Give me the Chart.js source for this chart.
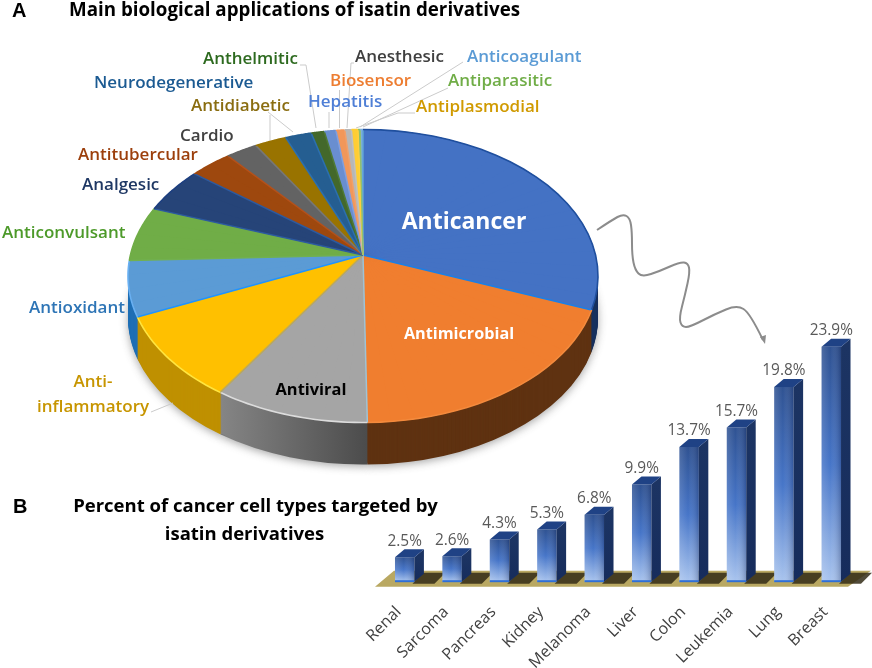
<!DOCTYPE html>
<html><head><meta charset="utf-8">
<style>html,body{margin:0;padding:0;background:#fff;width:872px;height:668px;overflow:hidden}
canvas{position:absolute;left:0;top:0}</style>
<script src="https://cdn.jsdelivr.net/npm/chart.js@4"></script></head>
<body><canvas id="pie" width="872" height="668"></canvas><canvas id="bar" width="872" height="668"></canvas>
<script>
const applications = ["Anticancer","Antimicrobial","Antiviral","Anti-inflammatory","Antioxidant","Anticonvulsant","Analgesic","Antitubercular","Cardio","Antidiabetic","Neurodegenerative","Anthelmitic","Hepatitis","Biosensor","Anesthesic","Antiplasmodial","Antiparasitic","Anticoagulant"];
const applicationShares = [28.75,21.0,10.7,10.1,6.2,5.9,4.7,3.0,2.2,2.2,1.8,0.9,0.8,0.6,0.45,0.45,0.14,0.2];
const sliceColors = ["#4472c4","#f07e2f","#a5a5a5","#ffc000","#5b9bd5","#70ad47","#264478","#9e480e","#636363","#997300","#255e91","#43682b","#698ed0","#f1975a","#b7b7b7","#ffcd33","#8cc168","#7cafdd"];
const rimColors = ["#17305e","#5f3211","#6a6a6a","#bf9000","#1f6fb5","#4f7f33","#1a2f55","#6f330a","#454545","#6b5100","#1a4267","#2f491e","#4a6492","#a96a3f","#808080","#b39024","#628749","#5f88ad"];
const edgeColors = ["#1f4f9e","#f38a3d","#dcdcdc","#ffe53f","#69b0f2","#70ad47","#1d3f80","#9e480e","#636363","#997300","#255e91","#43682b","#698ed0","#f1975a","#b7b7b7","#ffcd33","#8cc168","#7cafdd"];
const seamColors = ["#5fa3d8","#1b7fe6","#9fc3d6","#b9a860","#1f93ff","#72b050","#2c5aa0","#2c5aa0","#b5511a","#777777","#2b6fb0","#2b6fb0","#4f7a35","#7f9fe0","#f1a06a","#c0c0c0","#ffd040","#90c070"];
const cancerTypes = ["Renal","Sarcoma","Pancreas","Kidney","Melanoma","Liver","Colon","Leukemia","Lung","Breast"];
const cancerPercents = [2.5,2.6,4.3,5.3,6.8,9.9,13.7,15.7,19.8,23.9];

const F = '"Open Sans"';
const outsideLabels = [
 ["Anthelmitic",203,59,"#2d6a1f"],["Neurodegenerative",94,83,"#1b5a92"],["Antidiabetic",191,106,"#8a6d10"],
 ["Hepatitis",308,102,"#4f7fd6"],["Biosensor",330,81,"#ed7d31"],["Anesthesic",355,57,"#404040"],
 ["Anticoagulant",467,57,"#5b9bd5"],["Antiparasitic",448,81,"#70ad47"],["Antiplasmodial",416,107,"#d09a00"],
 ["Cardio",180,136,"#404040"],["Antitubercular",78,155,"#9c3f0c"],["Analgesic",82,185,"#1f3864"],
 ["Anticonvulsant",2,233,"#4d9a2a"],["Antioxidant",29,308,"#2e75b6"],["inflammatory",37,407,"#c79500"]];
const leaders = [
 [[270,140],[270,115]],[[293,132],[268,112]],[[316,128],[306,65],[300,65]],[[329,128],[329,112]],
 [[339.5,128],[339.5,90]],[[347,128],[351,63],[354,63]],[[360,127],[463,62]],[[363,127],[448,88]],
 [[356,128],[398,113],[415,113]],[[173,403],[151,412]]];
const wave = [[597,230],[612,220],[623,214],[630,218],[632,232],[632,255],[635,270],[642,277],[660,271],[680,262],[688,263],[690,272],[685,295],[679,318],[682,327],[690,327],[715,314],[737,305],[750,313],[763,340]];

const K = 146.5/235, SHIFT = 21, DEPTH = 42;

function plain(a,color,ang1,ang2){
  const s=Object.create(a), o=Object.assign({},a.options);
  o.backgroundColor=color; o.borderWidth=0; s.options=o;
  if(ang1!==undefined){s.startAngle=ang1;s.endAngle=ang2;s.circumference=ang2-ang1;}
  return s;
}
function rimPoint(a,phi){const R=a.outerRadius;return [R*Math.cos(phi),K*R*Math.sin(phi)+SHIFT];}
const piePlugin = {
  id:'face3d',
  beforeDatasetsDraw(chart){
    const ctx=chart.ctx, arcs=chart.getDatasetMeta(0).data, cx=arcs[0].x, cy=arcs[0].y;
    const draw=(s)=>s.constructor.prototype.draw.call(s,ctx);
    const grad=ctx.createLinearGradient(221,0,366,0);
    grad.addColorStop(0,'#858585');grad.addColorStop(1,'#4c4c4c');
    const col=i=>i===2?grad:rimColors[i];
    for(let d=DEPTH;d>=0;d--){
      ctx.save();
      if(d===DEPTH){ctx.shadowColor='rgba(60,60,60,.45)';ctx.shadowBlur=8;ctx.shadowOffsetY=2;}
      ctx.translate(cx,cy+SHIFT+d);ctx.scale(1,K);ctx.translate(-cx,-cy);
      arcs.forEach((a,i)=>draw(plain(a,col(i))));
      ctx.restore();
    }
    // top face: every slice is cut into thin wedges, each with its own affine map, so the apex sits off the ellipse centre
    arcs.forEach((a,i)=>{
      const span=a.endAngle-a.startAngle, n=Math.ceil(span/(6*Math.PI/180));
      for(let pass=0;pass<2;pass++) for(let j=0;j<n;j++){
        const p1=a.startAngle+span*j/n;
        const p2=a.startAngle+span*(j+1)/n+(j<n-1?0.03:0);
        const R=a.outerRadius;
        const v1=[R*Math.cos(p1),R*Math.sin(p1)],v2=[R*Math.cos(p2),R*Math.sin(p2)];
        const w1=rimPoint(a,p1),w2=rimPoint(a,p2);
        const det=v1[0]*v2[1]-v2[0]*v1[1];
        const m11=(w1[0]*v2[1]-w2[0]*v1[1])/det, m12=(w2[0]*v1[0]-w1[0]*v2[0])/det;
        const m21=(w1[1]*v2[1]-w2[1]*v1[1])/det, m22=(w2[1]*v1[0]-w1[1]*v2[0])/det;
        ctx.save();
        ctx.translate(cx,cy);ctx.transform(m11,m21,m12,m22,0,0);ctx.translate(-cx,-cy);
        draw(plain(a,sliceColors[i],p1,p2));
        ctx.restore();
      }
    });
    arcs.forEach((a,i)=>{
      const w=rimPoint(a,a.startAngle);
      ctx.strokeStyle=seamColors[i];ctx.lineWidth=1.5;
      ctx.beginPath();ctx.moveTo(cx,cy);ctx.lineTo(cx+w[0],cy+w[1]);ctx.stroke();
      ctx.strokeStyle=edgeColors[i];ctx.lineWidth=1.6;ctx.beginPath();
      for(let t=0;t<=24;t++){const p=rimPoint(a,a.startAngle+(a.endAngle-a.startAngle)*t/24);
        t?ctx.lineTo(cx+p[0],cy+p[1]):ctx.moveTo(cx+p[0],cy+p[1]);}
      ctx.stroke();
    });
    return false;
  },
  afterDraw(chart){
    const c=chart.ctx;
    c.save();
    c.strokeStyle='#cbcbcb';c.lineWidth=1;
    leaders.forEach(l=>{c.beginPath();l.forEach((p,i)=>i?c.lineTo(p[0],p[1]):c.moveTo(p[0],p[1]));c.stroke();});
    c.textBaseline='middle';c.textAlign='left';
    c.font='600 17px '+F;
    outsideLabels.forEach(l=>{c.fillStyle=l[3];c.fillText(l[0],l[1],l[2]);});
    c.fillStyle='#c79500';c.textAlign='center';c.fillText('Anti-',93,382);
    c.font='700 23px '+F;c.fillStyle='#fff';c.fillText('Anticancer',464,222);
    c.font='700 16.2px '+F;c.fillText('Antimicrobial',459,334);
    c.font='700 16.4px '+F;c.fillStyle='#000';c.fillText('Antiviral',311,390);
    c.textAlign='left';c.fillStyle='#000';
    c.font='700 20px "Liberation Sans"';c.fillText('A',12,11);c.fillText('B',13,507);
    c.font='700 18.75px '+F;c.fillText('Main biological applications of isatin derivatives',69,11);
    c.textAlign='center';c.font='700 18.5px '+F;
    c.fillText('Percent of cancer cell types targeted by',255.5,507);c.fillText('isatin derivatives',244.5,535);
    c.strokeStyle='#8c8c8c';c.lineWidth=2;c.lineJoin='round';c.beginPath();c.moveTo(wave[0][0],wave[0][1]);
    for(let i=1;i<wave.length-1;i++){const m=[(wave[i][0]+wave[i+1][0])/2,(wave[i][1]+wave[i+1][1])/2];
      c.quadraticCurveTo(wave[i][0],wave[i][1],i===wave.length-2?wave[i+1][0]:m[0],i===wave.length-2?wave[i+1][1]:m[1]);}
    c.stroke();
    c.fillStyle='#8c8c8c';c.beginPath();c.moveTo(765,344);c.lineTo(760,337);c.lineTo(766,335);c.closePath();c.fill();
    c.restore();
  }
};
new Chart(document.getElementById('pie'),{
  type:'pie',
  data:{labels:applications,datasets:[{data:applicationShares,backgroundColor:sliceColors,borderWidth:0}]},
  options:{responsive:false,animation:false,events:[],
    layout:{padding:{left:128,right:274,top:20,bottom:178}},
    plugins:{legend:{display:false},tooltip:{enabled:false}}},
  plugins:[piePlugin]
});

const DX=9.5, DY=-8;
function poly(c,pts,fill){c.fillStyle=fill;c.beginPath();pts.forEach((p,i)=>i?c.lineTo(p[0],p[1]):c.moveTo(p[0],p[1]));c.closePath();c.fill();}
const barPlugin={
  id:'bar3d',
  beforeDatasetsDraw(chart){
    const c=chart.ctx,x=chart.scales.x,base=chart.scales.y.getPixelForValue(0);
    poly(c,[[x.left-6,base+5],[x.right-7,base+5],[x.right+16,base-11],[x.left+13,base-11]],'#b9a862');
    chart.getDatasetMeta(0).data.forEach(b=>{
      const r=b.x+b.width/2;
      poly(c,[[r-2,base+2],[r+20,base+2],[r+31,base-9],[r+9,base-9]],'rgba(50,44,22,.85)');
    });
  },
  afterDatasetsDraw(chart){
    const c=chart.ctx,base=chart.scales.y.getPixelForValue(0);
    chart.getDatasetMeta(0).data.forEach((b,i)=>{
      const l=b.x-b.width/2,r=b.x+b.width/2,t=b.y;
      const h=c.createLinearGradient(l,0,r,0);
      h.addColorStop(0,'rgba(255,255,255,.14)');h.addColorStop(.45,'rgba(255,255,255,0)');h.addColorStop(1,'rgba(0,10,50,.25)');
      c.fillStyle=h;c.fillRect(l,t,b.width,base-t);
      c.fillStyle='#2f6fd6';c.fillRect(l,base-1.5,b.width,2);
      const s=c.createLinearGradient(0,t,0,base);
      s.addColorStop(0,'#1c3463');s.addColorStop(1,'#162c5c');
      poly(c,[[r,t],[r+DX,t+DY],[r+DX,base+DY],[r,base]],s);
      poly(c,[[l,t],[r,t],[r+DX,t+DY],[l+DX,t+DY]],'#1f4285');
      c.fillStyle='#595959';c.font='15.4px '+F;c.textAlign='center';c.textBaseline='middle';
      c.fillText(cancerPercents[i].toFixed(1)+'%',b.x,t-16);
    });
  }
};
new Chart(document.getElementById('bar'),{
  type:'bar',
  data:{labels:cancerTypes,datasets:[{data:cancerPercents,barPercentage:0.41,categoryPercentage:1,
    backgroundColor(ctx){
      const chart=ctx.chart; const v=cancerPercents[ctx.dataIndex];
      if(!chart.chartArea) return '#4472c4';
      const yS=chart.scales.y, t=yS.getPixelForValue(v), b=yS.getPixelForValue(0);
      const g=chart.ctx.createLinearGradient(0,t,0,b);
      g.addColorStop(0,'#2f5292');g.addColorStop(.5,'#4675c8');g.addColorStop(1,'#a9c4ee');
      return g;
    }}]},
  options:{responsive:false,animation:false,events:[],
    layout:{padding:{left:381,right:17,top:336,bottom:0}},
    scales:{
      y:{display:false,min:0,max:25,grid:{display:false}},
      x:{grid:{display:false},border:{display:false},afterFit(s){s.height=86.3;},
        ticks:{autoSkip:false,minRotation:45,maxRotation:45,padding:13,labelOffset:-6,color:'#404040',font:{family:'Open Sans',size:16}}}
    },
    plugins:{legend:{display:false},tooltip:{enabled:false}}},
  plugins:[barPlugin]
});
</script></body></html>
